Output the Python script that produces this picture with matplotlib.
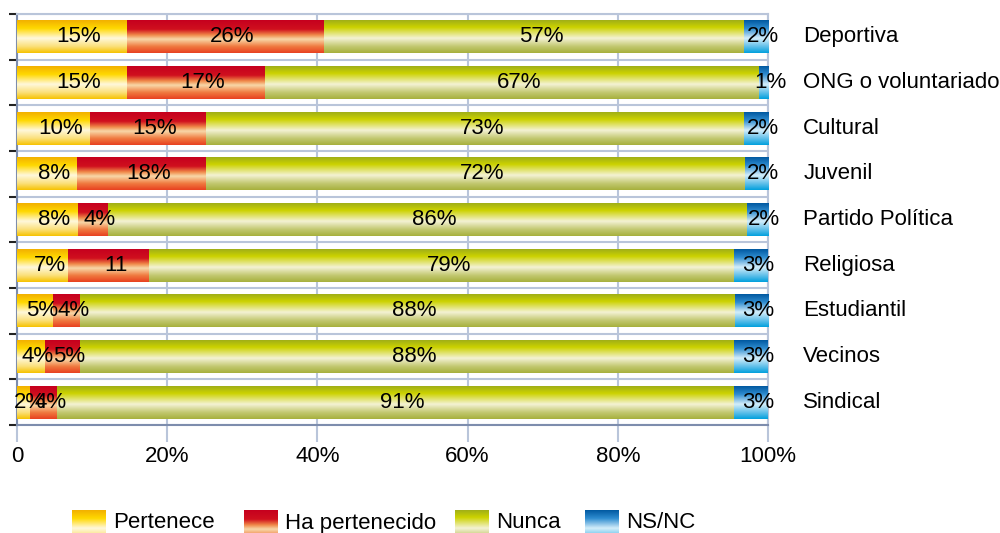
#Imports
import numpy as np
import matplotlib
matplotlib.use("Agg")
import matplotlib.pyplot as plt
import matplotlib.transforms as mtransforms
from matplotlib.colors import LinearSegmentedColormap

plt.rcParams["font.family"] = ["Liberation Sans", "DejaVu Sans"]
plt.rcParams["font.size"] = 16

# Data (% of respondents)
categories = ["Deportiva", "ONG o voluntariado", "Cultural", "Juvenil", "Partido Política",
              "Religiosa", "Estudiantil", "Vecinos", "Sindical"]
series_names = ["Pertenece", "Ha pertenecido", "Nunca", "NS/NC"]
pertenece = [14.6, 14.6, 9.7, 8.0, 8.1, 6.8, 4.8, 3.7, 1.7]
ha_pertenecido = [26.3, 18.4, 15.5, 17.2, 4.0, 10.8, 3.6, 4.7, 3.6]
nunca = [55.9, 65.8, 71.6, 71.7, 85.1, 77.9, 87.2, 87.1, 90.2]
ns_nc = [3.2, 1.2, 3.2, 3.1, 2.8, 4.5, 4.4, 4.5, 4.5]

# Printed labels in each segment
lab_pertenece = ["15%", "15%", "10%", "8%", "8%", "7%", "5%", "4%", "2%"]
lab_ha_pertenecido = ["26%", "17%", "15%", "18%", "4%", "11", "4%", "5%", "4%"]
lab_nunca = ["57%", "67%", "73%", "72%", "86%", "79%", "88%", "88%", "91%"]
lab_ns_nc = ["2%", "1%", "2%", "2%", "2%", "3%", "3%", "3%", "3%"]

x_ticks = [0, 20, 40, 60, 80, 100]
x_tick_labels = ["0", "20%", "40%", "60%", "80%", "100%"]

#Vertical gradients (top -> bottom) for every series
cmaps = [
    LinearSegmentedColormap.from_list("yel", [(0, "#F2B000"), (0.25, "#FFD800"), (0.55, "#FFF8DC"),
                                              (0.8, "#FBE07A"), (1, "#F6C200")]),
    LinearSegmentedColormap.from_list("red", [(0, "#C6001E"), (0.28, "#D0101E"), (0.45, "#F08848"),
                                              (0.58, "#F8D8A8"), (0.8, "#F07A40"), (1, "#E84020")]),
    LinearSegmentedColormap.from_list("grn", [(0, "#A0AE18"), (0.22, "#CCD200"), (0.55, "#F4F2D4"),
                                              (0.8, "#C2C870"), (1, "#A6B03C")]),
    LinearSegmentedColormap.from_list("blu", [(0, "#0058A0"), (0.25, "#2E8CD0"), (0.55, "#D4EEFA"),
                                              (0.8, "#62C0EA"), (1, "#00A0DC")]),
]
grad = np.linspace(0, 1, 256).reshape(-1, 1)

grid_col = "#B9C5DA"
axis_col = "#7D8DAD"

fig = plt.figure(figsize=(10, 5.33), dpi=100)
ax = fig.add_axes([0.017, 1 - 425 / 533, 0.751, (425 - 14) / 533])

y = np.arange(len(categories))
values = [pertenece, ha_pertenecido, nunca, ns_nc]
labels = [lab_pertenece, lab_ha_pertenecido, lab_nunca, lab_ns_nc]
left = np.zeros(len(categories))

for vals, labs, cmap in zip(values, labels, cmaps):
    bars = ax.barh(y, vals, left=left, height=0.72, color="none", edgecolor="none", zorder=3)
    for bar in bars:
        x0, y0 = bar.get_x(), bar.get_y()
        w, h = bar.get_width(), bar.get_height()
        im = ax.imshow(grad, cmap=cmap, aspect="auto", origin="upper",
                       extent=(x0, x0 + w, y0 + h, y0), zorder=3, interpolation="bilinear")
        im.set_clip_path(bar)
    centers = left + np.array(vals) / 2
    for cx, cy, t in zip(centers, y, labs):
        ax.annotate(t, (cx, cy), xytext=(5, 0), textcoords="offset points",
                    ha="center", va="center", fontsize=16, color="black", zorder=5)
    left = left + np.array(vals)

ax.set_xlim(0, 100)
ax.set_ylim(len(categories) - 0.5, -0.5)

#Grid and axes styling
ax.set_xticks(x_ticks)
ax.set_xticklabels(x_tick_labels)
ax.set_yticks(np.arange(len(categories) + 1) - 0.5)
ax.set_yticklabels([])
ax.grid(axis="x", color=grid_col, lw=1.5, zorder=1)
ax.grid(axis="y", color=grid_col, lw=1.5, zorder=1)
ax.tick_params(axis="x", length=12, width=1.5, color=grid_col, pad=3)
ax.tick_params(axis="y", length=6, width=1.5, color="#222222", pad=2)
for side in ["top", "right"]:
    ax.spines[side].set_color(grid_col)
    ax.spines[side].set_linewidth(1.5)
for side in ["left", "bottom"]:
    ax.spines[side].set_color(axis_col)
    ax.spines[side].set_linewidth(1.5)

#Category names on the right
trans = mtransforms.blended_transform_factory(ax.transAxes, ax.transData)
for cy, name in zip(y, categories):
    ax.text(1.047, cy, name, transform=trans, ha="left", va="center", fontsize=16)

#Legend drawn by hand, cut at the bottom edge like the original
lax = fig.add_axes([0, -10 / 533, 1, 33 / 533])
leg_x = [72, 244, 455, 585]
for lx, name, cmap in zip(leg_x, series_names, cmaps):
    lax.imshow(grad, cmap=cmap, aspect="auto", origin="upper", extent=(lx, lx + 34, 33, 0),
               interpolation="bilinear")
    lax.text(lx + 41, 13, name, ha="left", va="center", fontsize=16)
lax.set_xlim(0, 1000)
lax.set_ylim(33, 0)
lax.axis("off")

plt.savefig("out.png", dpi=100)
plt.close()
